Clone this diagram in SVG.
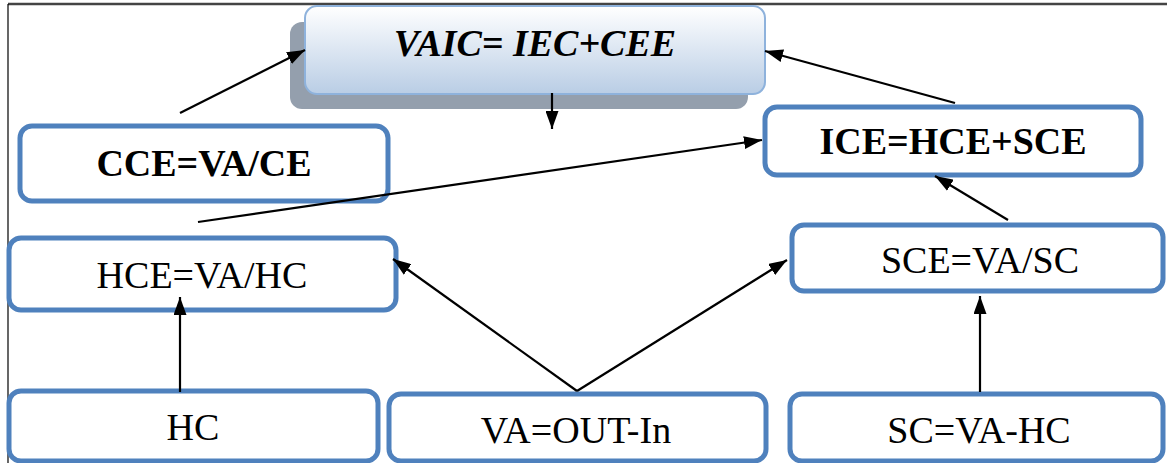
<svg xmlns="http://www.w3.org/2000/svg" width="1167" height="463" viewBox="0 0 1167 463">
<style>
.box{fill:#fff;stroke:#4f81bd;stroke-width:5}
.t{font-family:"Liberation Serif","Times New Roman","DejaVu Serif",serif;font-size:38px;fill:#000;text-anchor:middle}
.b{font-weight:bold}
.c{stroke:#000;stroke-width:2.2;fill:none;marker-end:url(#ah)}
</style>
<defs>
<linearGradient id="g" x1="0" y1="0" x2="0" y2="1">
<stop offset="0" stop-color="#ffffff"/>
<stop offset="1" stop-color="#b9cde5"/>
</linearGradient>
<marker id="ah" viewBox="0 0 18 13" refX="18" refY="6.5" markerWidth="18" markerHeight="13" markerUnits="userSpaceOnUse" orient="auto">
<path d="M0,0 L18,6.5 L0,13 z" fill="#000"/>
</marker>
</defs>
<g id="frame">
<line x1="8" y1="4" x2="1167" y2="4" stroke="#444" stroke-width="2.5"/>
<line x1="8" y1="4" x2="8" y2="463" stroke="#000" stroke-width="1.2"/>
</g>
<g id="vaic">
<rect x="290" y="22" width="458" height="87" rx="12" fill="#949fad"/>
<rect x="305" y="6" width="460" height="88" rx="12" fill="url(#g)" stroke="#8eb2dc" stroke-width="2"/>
<text class="t b" x="535" y="56" font-style="italic">VAIC= IEC+CEE</text>
</g>
<g id="cce">
<rect class="box" x="20" y="126" width="368" height="75" rx="12"/>
<text class="t b" x="204" y="176">CCE=VA/CE</text>
</g>
<g id="ice">
<rect class="box" x="765" y="107" width="376" height="68" rx="12"/>
<text class="t b" x="953" y="154">ICE=HCE+SCE</text>
</g>
<g id="hce">
<rect class="box" x="9" y="238" width="387" height="72" rx="12"/>
<text class="t" x="202" y="288">HCE=VA/HC</text>
</g>
<g id="sce">
<rect class="box" x="792" y="225" width="371" height="66" rx="12"/>
<text class="t" x="980" y="273">SCE=VA/SC</text>
</g>
<g id="hc">
<rect class="box" x="9" y="391" width="369" height="70" rx="12"/>
<text class="t" x="193" y="440">HC</text>
</g>
<g id="va">
<rect class="box" x="389" y="394" width="377" height="67" rx="12"/>
<text class="t" x="576" y="443">VA=OUT-In</text>
</g>
<g id="sc">
<rect class="box" x="790" y="394" width="373" height="67" rx="12"/>
<text class="t" x="979" y="443">SC=VA-HC</text>
</g>
<g id="connectors">
<line class="c" x1="552" y1="93" x2="552" y2="129"/>
<line class="c" x1="180" y1="113" x2="305" y2="50"/>
<line class="c" x1="955" y1="103" x2="765" y2="51"/>
<line class="c" x1="198" y1="222" x2="762" y2="140"/>
<line class="c" x1="1008" y1="220" x2="935" y2="176"/>
<line class="c" x1="180" y1="392" x2="180" y2="297"/>
<line class="c" x1="980" y1="392" x2="980" y2="296"/>
<line class="c" x1="577" y1="391" x2="393" y2="259"/>
<line class="c" x1="577" y1="391" x2="787" y2="260"/>
</g>
</svg>
